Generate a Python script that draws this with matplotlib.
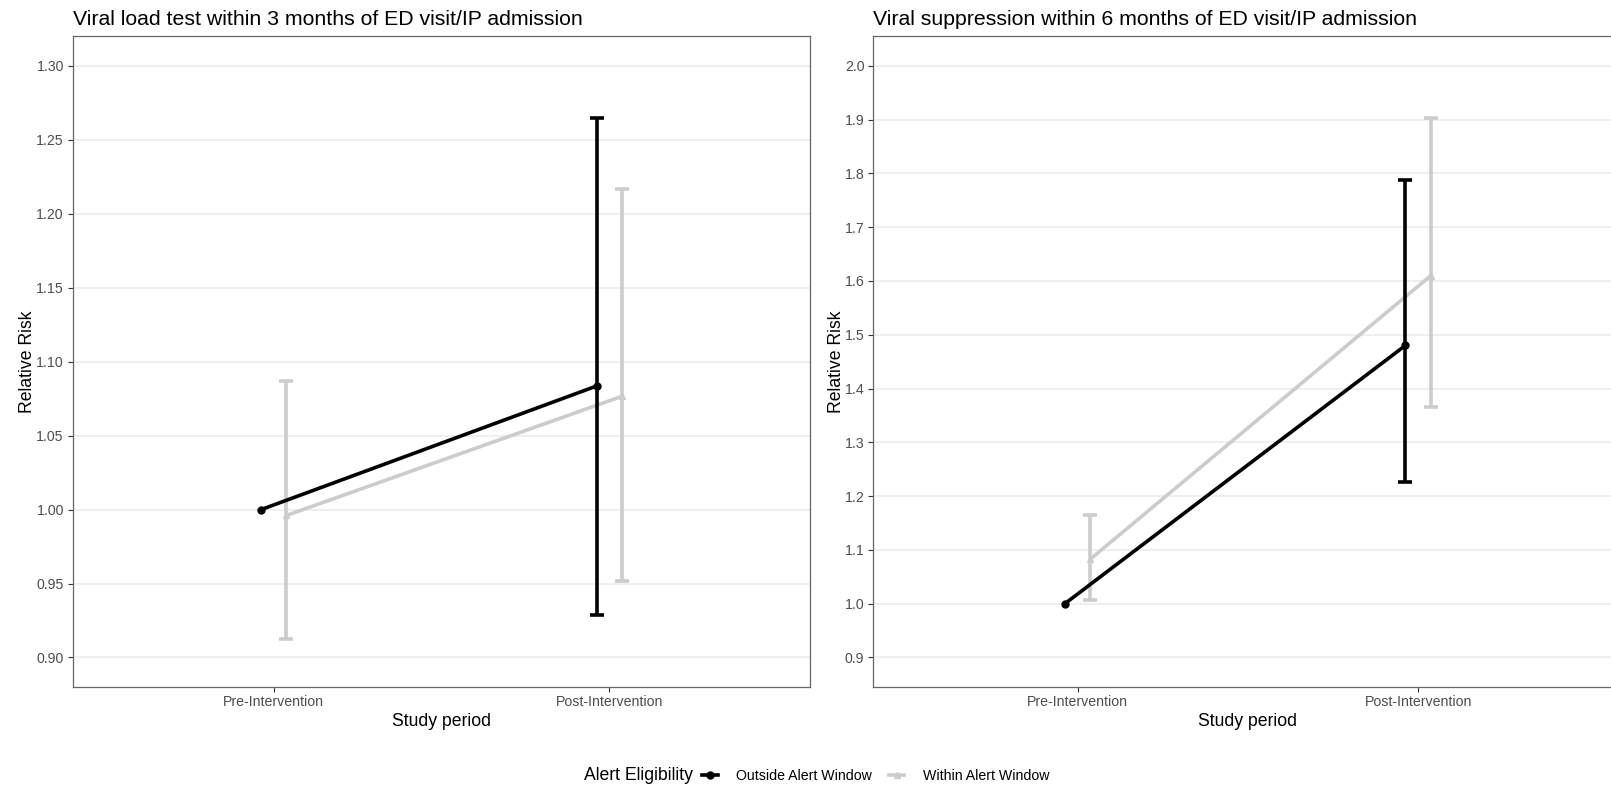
import numpy as np
import matplotlib
matplotlib.use("Agg")
import matplotlib.pyplot as plt
from matplotlib.lines import Line2D

plt.rcParams['font.family'] = ['Liberation Sans', 'DejaVu Sans']

# data
categories = ['Pre-Intervention', 'Post-Intervention']
groups = ['Outside Alert Window', 'Within Alert Window']

# viral load test (left panel)
vl_out = [1.000, 1.0835]
vl_out_lo = [np.nan, 0.9285]
vl_out_hi = [np.nan, 1.2645]
vl_in = [0.996, 1.0765]
vl_in_lo = [0.9125, 0.9515]
vl_in_hi = [1.087, 1.2165]

# viral suppression (right panel)
vs_out = [1.000, 1.480]
vs_out_lo = [np.nan, 1.226]
vs_out_hi = [np.nan, 1.788]
vs_in = [1.083, 1.610]
vs_in_lo = [1.007, 1.366]
vs_in_hi = [1.165, 1.903]

BLACK = '#000000'
GREY = '#cccccc'
DODGE = 0.0375

fig = plt.figure(figsize=(16.11, 7.9), dpi=100)
ax1 = fig.add_axes([0.0451, 0.1303, 0.4579, 0.8239])
ax2 = fig.add_axes([0.5421, 0.1303, 0.4650, 0.8239])


def draw_series(ax, vals, lo, hi, color, marker, ms, off, zl, ze):
    x = np.arange(len(categories)) + 1 + off
    vals = np.array(vals); lo = np.array(lo); hi = np.array(hi)
    ax.plot(x, vals, color=color, lw=2.6, marker=marker, ms=ms,
            solid_capstyle='butt', zorder=zl)
    ok = ~np.isnan(lo)
    ax.errorbar(x[ok], vals[ok], yerr=[vals[ok] - lo[ok], hi[ok] - vals[ok]],
                fmt='none', ecolor=color, elinewidth=2.6, capsize=5,
                capthick=2.6, zorder=ze)


def style(ax, title, yticks, ylim, fmt):
    ax.set_xlim(0.4, 2.6)
    ax.set_ylim(*ylim)
    ax.set_xticks(np.arange(len(categories)) + 1)
    ax.set_xticklabels(categories)
    ax.set_yticks(yticks)
    ax.set_yticklabels([fmt.format(v) for v in yticks])
    ax.grid(axis='y', color='#ebebeb', lw=1.1, zorder=0)
    ax.set_axisbelow(True)
    for s in ax.spines.values():
        s.set_color('#666666')
        s.set_linewidth(0.9)
    ax.tick_params(colors='#333333', labelcolor='#4d4d4d', labelsize=10.2,
                   length=3.4, width=0.8, pad=3)
    ax.tick_params(axis='x', pad=2.5)
    ax.set_xlabel('Study period', fontsize=12.7, labelpad=2.5)
    ax.set_ylabel('Relative Risk', fontsize=12.7, labelpad=0)
    ax.set_title(title, loc='left', fontsize=15.3, pad=8.3)


draw_series(ax1, vl_in, vl_in_lo, vl_in_hi, GREY, '^', 5, DODGE, 3, 2)
draw_series(ax1, vl_out, vl_out_lo, vl_out_hi, BLACK, 'o', 5, -DODGE, 4, 5)
draw_series(ax2, vs_in, vs_in_lo, vs_in_hi, GREY, '^', 5, DODGE, 3, 2)
draw_series(ax2, vs_out, vs_out_lo, vs_out_hi, BLACK, 'o', 5, -DODGE, 4, 5)

style(ax1, 'Viral load test within 3 months of ED visit/IP admission',
      np.arange(0.90, 1.301, 0.05), (0.88, 1.32), '{:.2f}')
style(ax2, 'Viral suppression within 6 months of ED visit/IP admission',
      np.arange(0.9, 2.001, 0.1), (0.845, 2.055), '{:.1f}')

fig.text(584 / 1611, 0.0181, 'Alert Eligibility', fontsize=12.7,
         ha='left', va='center')
handles = [Line2D([], [], color=BLACK, lw=2.6, marker='o', ms=5),
           Line2D([], [], color=GREY, lw=2.6, marker='^', ms=5)]
fig.legend(handles, groups, loc='center left',
           bbox_to_anchor=(702 / 1611, 0.0181), ncol=2, frameon=False,
           fontsize=10.2, handlelength=1.1, handletextpad=1.3,
           columnspacing=1.2, borderpad=0, borderaxespad=0)

fig.savefig('out.png', dpi=100)
